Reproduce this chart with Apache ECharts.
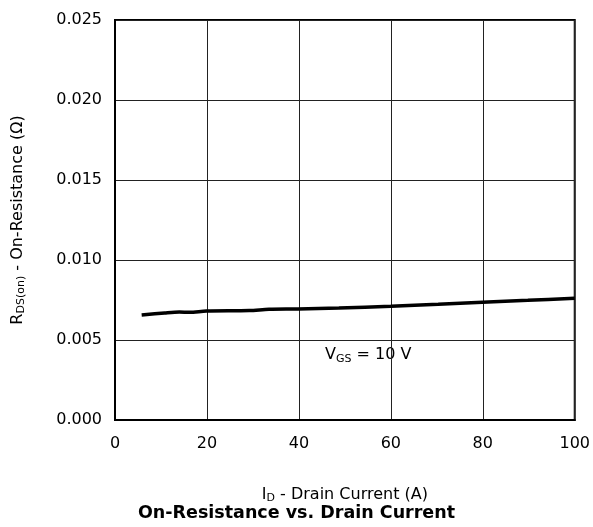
<!DOCTYPE html>
<html>
<head>
<meta charset="utf-8">
<script src="https://cdn.jsdelivr.net/npm/echarts@6/dist/echarts.min.js"></script>
<style>html,body{margin:0;padding:0;background:#fff}#c{width:593px;height:527px}</style>
</head>
<body>
<div id="c"></div>
<script>
const xTicks = [0, 20, 40, 60, 80, 100];
const yTicks = [0.000, 0.005, 0.010, 0.015, 0.020, 0.025];
const currentA = [5.8, 10.8, 14, 16.2, 19.9, 29.2, 33.5, 39.8, 48.7, 60, 70.3, 79.9, 89.8, 100];
const rdsOhm = [0.00656, 0.00669, 0.00675, 0.00673, 0.00681, 0.00684, 0.00692, 0.00694, 0.00700, 0.00711, 0.00723, 0.00736, 0.00748, 0.00761];

const font = 'DejaVu Sans, Arial, Helvetica, sans-serif';
const chart = echarts.init(document.getElementById('c'));
chart.setOption({
  animation: false,
  backgroundColor: '#fff',
  grid: { left: 115, top: 20, right: 16, bottom: 107, show: true, borderColor: '#000', borderWidth: 2, backgroundColor: 'transparent' },
  xAxis: {
    type: 'value', min: xTicks[0], max: xTicks[xTicks.length - 1], interval: 20,
    axisLine: { show: true, lineStyle: { color: '#000', width: 2 } },
    axisTick: { show: false },
    splitLine: { show: true, lineStyle: { color: '#222', width: 1 } },
    axisLabel: { color: '#000', fontSize: 16, fontFamily: font, margin: 16 },
    name: '{m|I}{s|D}{m| - Drain Current (A)}',
    nameLocation: 'middle', nameGap: 65,
    nameTextStyle: { rich: {
      m: { fontSize: 16, fontFamily: font, color: '#000' },
      s: { fontSize: 11, fontFamily: font, color: '#000', verticalAlign: 'bottom', padding: [8, 0, 0, 0] }
    } }
  },
  yAxis: {
    type: 'value', min: yTicks[0], max: yTicks[yTicks.length - 1], interval: 0.005,
    axisLine: { show: true, lineStyle: { color: '#000', width: 2 } },
    axisTick: { show: false },
    splitLine: { show: true, lineStyle: { color: '#222', width: 1 } },
    axisLabel: { color: '#000', fontSize: 16, fontFamily: font, margin: 13, formatter: v => v.toFixed(3) },
    name: '{m|R}{s|DS(on)}{m| - On-Resistance (Ω)}',
    nameLocation: 'middle', nameGap: 88, nameRotate: 90,
    nameTextStyle: { rich: {
      m: { fontSize: 16, fontFamily: font, color: '#000' },
      s: { fontSize: 11, fontFamily: font, color: '#000', verticalAlign: 'bottom', padding: [8, 0, 0, 0] }
    } }
  },
  series: [{
    type: 'line', data: currentA.map((x, i) => [x, rdsOhm[i]]),
    showSymbol: false, smooth: 0.3,
    lineStyle: { color: '#000', width: 3.5 }
  }],
  graphic: [
    { type: 'text', left: 325, top: 347, style: {
      text: '{m|V}{s|GS}{m| = 10 V}',
      rich: {
        m: { fontSize: 16, fontFamily: font, fill: '#000' },
        s: { fontSize: 11, fontFamily: font, fill: '#000', verticalAlign: 'bottom', padding: [8, 0, 0, 0] }
      }
    } },
    { type: 'text', left: 'center', top: 504, style: {
      text: 'On-Resistance vs. Drain Current', fontSize: 17.5, fontWeight: 'bold', fontFamily: font, fill: '#000'
    } }
  ]
});
</script>
</body>
</html>
